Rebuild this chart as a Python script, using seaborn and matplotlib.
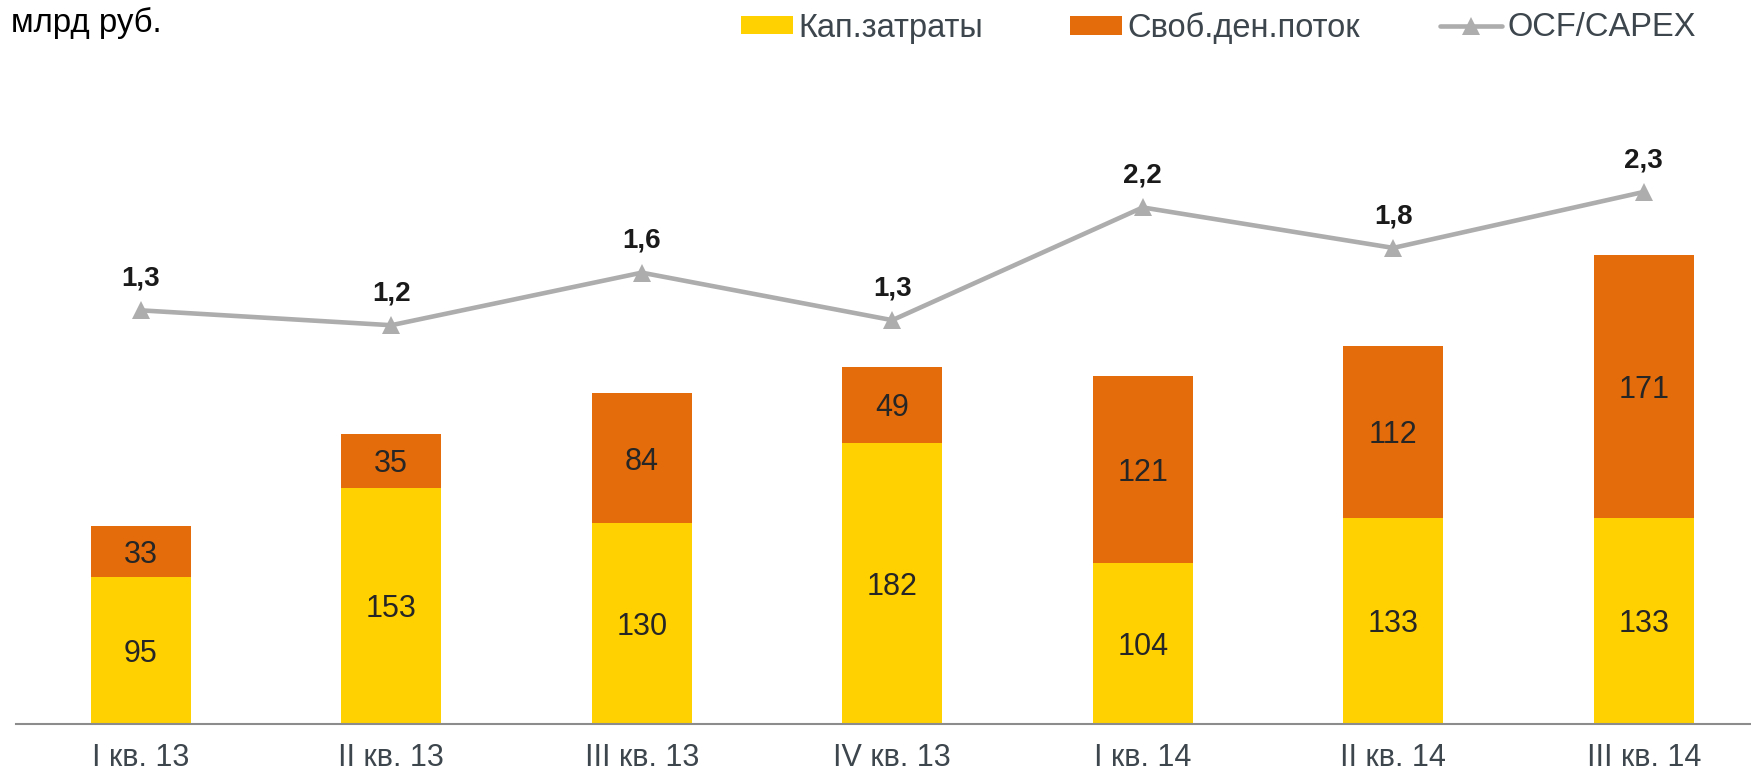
import numpy as np
import pandas as pd
import matplotlib
matplotlib.use("Agg")
import matplotlib.pyplot as plt
from matplotlib.patches import Patch
from matplotlib.lines import Line2D
from matplotlib.ticker import FixedLocator
import seaborn as sns

# ---- data ----
quarters = ["I кв. 13", "II кв. 13", "III кв. 13", "IV кв. 13", "I кв. 14", "II кв. 14", "III кв. 14"]
capex = [95, 153, 130, 182, 104, 133, 133]
fcf = [33, 35, 84, 49, 121, 112, 171]
ocf_capex = [1.347, 1.229, 1.646, 1.269, 2.163, 1.842, 2.286]
series_names = ["Кап.затраты", "Своб.ден.поток", "OCF/CAPEX"]
unit_label = "млрд руб."

YELLOW = "#FFD100"
ORANGE = "#E46C0A"
GREY_LINE = "#ADADAD"
AXIS_GREY = "#8C8C8C"
TEXT_DARK = "#262626"
TICK_TXT = "#3D464D"

sns.set_style("white")
plt.rcParams["font.family"] = ["Liberation Sans", "DejaVu Sans"]

W, H = 1751, 775
fig = plt.figure(figsize=(W / 100, H / 100), dpi=100)

# axes geometry (pixels)
ax_left_px = 15.5
ax_bottom_px = 723.6
ax_top_px = 70.0
cat_w = 250.5
ax = fig.add_axes([ax_left_px / W, (H - ax_bottom_px) / H,
                   7 * cat_w / W, (ax_bottom_px - ax_top_px) / H])

df = pd.DataFrame({"q": quarters, "capex": capex, "fcf": fcf})
df["total"] = df["capex"] + df["fcf"]

sns.barplot(data=df, x="q", y="total", color=ORANGE, saturation=1, width=0.4,
            linewidth=0, ax=ax, order=quarters)
sns.barplot(data=df, x="q", y="capex", color=YELLOW, saturation=1, width=0.4,
            linewidth=0, ax=ax, order=quarters)

px_per_unit = 1.543
ax.set_ylim(0, (ax_bottom_px - ax_top_px) / px_per_unit)
ax.set_xlim(-0.5, 6.5)
ax.set_xlabel("")
ax.set_ylabel("")
ax.set_yticks([])
for s in ["top", "left", "right"]:
    ax.spines[s].set_visible(False)
ax.spines["bottom"].set_color(AXIS_GREY)
ax.spines["bottom"].set_linewidth(1.5)

ax.set_xticks(range(len(quarters)))
ax.set_xticklabels(quarters, fontsize=22, color=TICK_TXT)
ax.tick_params(axis="x", which="major", length=0, pad=14)
ax.xaxis.set_minor_locator(FixedLocator(np.arange(-0.5, 7.0, 1.0)))
ax.tick_params(axis="x", which="minor", length=6, width=1.5, color=AXIS_GREY, direction="out")

# bar labels
for i, (c, f) in enumerate(zip(capex, fcf)):
    ax.text(i, c / 2, f"{c}", ha="center", va="center_baseline", fontsize=22, color=TEXT_DARK)
    ax.text(i, c + f / 2, f"{f}", ha="center", va="center_baseline", fontsize=22, color=TEXT_DARK)

# secondary axis line
ax2 = ax.twinx()
sns.lineplot(x=np.arange(len(quarters)), y=ocf_capex, ax=ax2, color=GREY_LINE,
             linewidth=3.3, marker="^", markersize=13, markeredgewidth=0)
zero_px = 480.2
r_px = 126.1
ax2.set_ylim(-(ax_bottom_px - zero_px) / r_px, (zero_px - ax_top_px) / r_px)
ax2.set_xlim(-0.5, 6.5)
ax2.set_yticks([])
ax2.set_ylabel("")
for s in ax2.spines.values():
    s.set_visible(False)
for i, v in enumerate(ocf_capex):
    ax2.annotate(f"{v:.1f}".replace(".", ","), (i, v), xytext=(0, 25),
                 textcoords="offset points", ha="center", va="center_baseline",
                 fontsize=20, fontweight="bold", color="#1A1A1A")

# unit label
fig.text(11 / W, 1 - 32 / H, unit_label, ha="left", va="baseline", fontsize=23.8, color="black")

# legend (three single-entry legends placed manually)
fs = 23.5
fpx = fs * 100 / 72
leg_y = 1 - 28 / H
handles = [
    Patch(facecolor=YELLOW, edgecolor="none"),
    Patch(facecolor=ORANGE, edgecolor="none"),
    Line2D([], [], color=GREY_LINE, linewidth=3.3, marker="^", markersize=13, markeredgewidth=0),
]
starts = [741, 1070, 1440]
hlens = [52, 52, 62]
for h, lab, x0, hl in zip(handles, series_names, starts, hlens):
    leg = fig.legend([h], [lab], loc="center left", bbox_to_anchor=(x0 / W, leg_y),
                     frameon=False, fontsize=fs, handlelength=hl / fpx, handleheight=16 / fpx,
                     handletextpad=5 / fpx, borderpad=0, borderaxespad=0)
    for t in leg.get_texts():
        t.set_color(TICK_TXT)

fig.savefig("out.png", dpi=100)
